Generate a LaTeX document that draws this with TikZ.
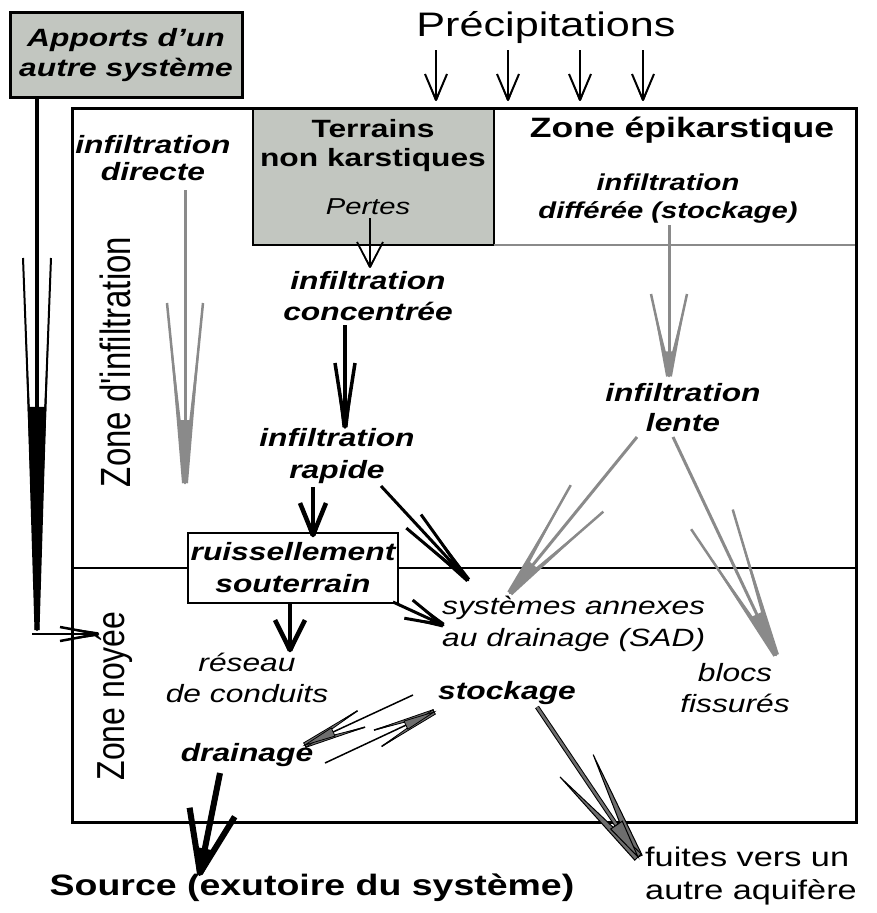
\documentclass[tikz,border=0pt]{standalone}
\usepackage{fontspec}
\setmainfont{Liberation Sans}[FakeStretch=1.27]
\newfontfamily\vfont{Liberation Sans}
\usetikzlibrary{calc}
\definecolor{boxgray}{HTML}{C2C6C0}
\definecolor{arrgray}{HTML}{8A8A8A}
\definecolor{dgray}{HTML}{6E6E6E}
\newcommand\fs[2]{\fontsize{#1}{#2}\selectfont}
% fancy arrow: [shaft style]{start}{tip}{barb length}{half width}{solid fraction}{barb width at tip}{tip style}
\newcommand\farrow[8][]{%
  \coordinate (faB) at ($(#3)!#4pt!(#2)$);
  \coordinate (faF) at ($(faB)!#5pt!90:(#3)$);
  \coordinate (faG) at ($(faB)!#5pt!-90:(#3)$);
  \draw[#1] (#2) -- (#3);
  \draw[line join=round, #1, barb] (faF) -- (#3) -- (faG);
  \path[#8] (faF) -- ($(#3)!#7pt!90:(faF)$) -- ($(#3)!#7pt!-90:(faF)$) -- cycle;
  \path[#8] (faG) -- ($(#3)!#7pt!90:(faG)$) -- ($(#3)!#7pt!-90:(faG)$) -- cycle;
  \path[#8] (#3) -- ($(#3)!#6!(faF)$) -- ($(#3)!#6!(faG)$) -- cycle;
}
\tikzset{
  barb/.style={},
  bi/.style={font=\fs{25}{30}\bfseries\itshape, align=center, inner sep=0pt},
  it/.style={font=\fs{25}{31}\itshape, align=center, inner sep=0pt},
  bd/.style={font=\fs{25}{29}\bfseries, align=center, inner sep=0pt},
  blk/.style={line width=3pt, black},
  gry/.style={line width=3pt, arrgray},
  fb/.style={fill=black},
  fg/.style={fill=arrgray},
}
\begin{document}
\begin{tikzpicture}[x=1pt,y=-1pt]
\useasboundingbox (0,0) rectangle (876,913);
% boxes and frame
\filldraw[fill=boxgray, draw=black, line width=1.5pt] (253,108) rectangle (494,245);
\draw[line width=1.8pt, arrgray] (494,245) -- (856,245);
\draw[line width=2pt] (72,568) -- (856,568);
\draw[line width=3pt] (72,108) rectangle (856,822);
\node[draw, line width=3pt, fill=boxgray, minimum width=232pt, minimum height=85pt, inner sep=0pt, font=\fs{25}{30}\bfseries\itshape, align=center] (apports) at (126,55) {Apports d'un\\autre système};
\node[draw, line width=1.5pt, fill=white, minimum width=210pt, minimum height=70pt, inner sep=0pt, font=\fs{25}{32}\bfseries\itshape, align=center] (ruiss) at (293,568) {ruissellement\\souterrain};

% texts
\node[font=\fs{34}{40}, inner sep=0pt] (precip) at (546,28) {Précipitations};
\node[bi, font=\fs{25}{27}\bfseries\itshape] (directe) at (153,158) {infiltration\\directe};
\node[bd] (terrains) at (373,146) {Terrains\\non karstiques};
\node[font=\fs{28}{32}\bfseries, inner sep=0pt] (epi) at (682,130) {Zone épikarstique};
\node[font=\fs{23}{28}\itshape, inner sep=0pt] (pertes) at (368,207) {Pertes};
\node[bi, font=\fs{23}{28}\bfseries\itshape] (differee) at (668,199) {infiltration\\différée (stockage)};
\node[bi, font=\fs{25}{31}\bfseries\itshape] (concentree) at (368,296) {infiltration\\concentrée};
\node[bi, font=\fs{25}{32}\bfseries\itshape] (rapide) at (337,456) {infiltration\\rapide};
\node[bi] (lente) at (683,408) {infiltration\\lente};
\node[it, align=left, anchor=west, font=\fs{25}{32}\itshape] (sad) at (442,624) {systèmes annexes\\au drainage (SAD)};
\node[it] (reseau) at (247,678) {réseau\\de conduits};
\node[it] (blocs) at (735,688) {blocs\\fissurés};
\node[bi] (stockage) at (507,693) {stockage};
\node[bi] (drainage) at (247,755) {drainage};
\node[font=\fs{29.5}{34}\bfseries, inner sep=0pt] (source) at (312,888) {Source (exutoire du système)};
\node[font=\fs{27}{33}, align=left, anchor=west, inner sep=0pt] (fuites) at (645,876) {fuites vers un\\autre aquifère};
\node[rotate=90, inner sep=0pt, font=\vfont\fs{33}{36}] (zinf) at (115,362) {\scalebox{1}[1.28]{Zone d'infiltration}};
\node[rotate=90, inner sep=0pt, font=\vfont\fs{32}{36}] (znoy) at (114,696) {\scalebox{1}[1.22]{Zone noyée}};

% connector end points
\coordinate (p1s) at (436,50); \coordinate (p1t) at (436,100);
\coordinate (p2s) at (508,50); \coordinate (p2t) at (508,100);
\coordinate (p3s) at (580,50); \coordinate (p3t) at (580,100);
\coordinate (p4s) at (643,50); \coordinate (p4t) at (643,100);
\coordinate (apS) at (37,97);  \coordinate (apT) at (37,630);
\coordinate (znS) at (32,634); \coordinate (znT) at (98,634);
\coordinate (diS) at (185,190); \coordinate (diT) at (185,483);
\coordinate (peS) at (370,218); \coordinate (peT) at (370,267);
\coordinate (coS) at (345,325); \coordinate (coT) at (345,427);
\coordinate (raS) at (313,487); \coordinate (raT) at (313,535);
\coordinate (rsS) at (381,486); \coordinate (rsT) at (468,580);
\coordinate (rrS) at (290,602); \coordinate (rrT) at (290,650);
\coordinate (ruS) at (393,602); \coordinate (ruT) at (443,625);
\coordinate (epS) at (669,225); \coordinate (epT) at (669,376);
\coordinate (lsS) at (637,437); \coordinate (lsT) at (510,593);
\coordinate (lbS) at (673,437); \coordinate (lbT) at (776,655);
\coordinate (sdS) at (413,695); \coordinate (sdT) at (305,745);
\coordinate (dsS) at (325,763); \coordinate (dsT) at (434,712);
\coordinate (sfS) at (537,707); \coordinate (sfT) at (638,857);
\coordinate (doS) at (220,773); \coordinate (doT) at (200,873);

% arrows
\foreach \i in {1,2,3,4}{\farrow[line width=2pt]{p\i s}{p\i t}{26}{11}{0}{1}{fb}}
\begin{scope}[barb/.style={line width=2pt}]
\farrow[line width=4pt]{apS}{apT}{372}{14}{0.6}{2.5}{fb}
\end{scope}
\farrow[line width=2.5pt]{znS}{znT}{38}{7}{0.2}{1.8}{fb}
\begin{scope}[barb/.style={line width=2.5pt}]
\farrow[gry]{diS}{diT}{180}{18}{0.35}{3}{fg}
\farrow[gry]{epS}{epT}{82}{18}{0.3}{3}{fg}
\farrow[gry]{lsS}{lsT}{122}{21}{0.3}{3}{fg}
\farrow[gry]{lbS}{lbT}{150}{23}{0.3}{3}{fg}
\end{scope}
\farrow[line width=1.8pt]{peS}{peT}{25}{13}{0}{1}{fb}
\farrow[line width=3.5pt]{coS}{coT}{64}{10}{0.3}{2.5}{fb}
\farrow[line width=4.5pt]{raS}{raT}{32}{13}{0.3}{2.5}{fb}
\farrow[blk]{rsS}{rsT}{80}{10}{0.3}{2.5}{fb}
\farrow[line width=4.5pt]{rrS}{rrT}{30}{15}{0.3}{2.5}{fb}
\farrow[blk]{ruS}{ruT}{38}{10}{0.3}{2.5}{fb}
\farrow[line width=1.5pt]{sdS}{sdT}{62}{9}{0.5}{2.5}{fill=dgray, draw=black, line width=0.8pt}
\farrow[line width=1.5pt]{dsS}{dsT}{62}{9}{0.5}{2.5}{fill=dgray, draw=black, line width=0.8pt}
\begin{scope}[barb/.style={draw=none}]
\farrow[draw=black, line width=1pt, double=dgray, double distance=2.5pt]{sfS}{sfT}{110}{20}{0.35}{4.5}{fill=dgray, draw=black, line width=1pt}
\end{scope}
\farrow[line width=6pt]{doS}{doT}{62}{23}{0.4}{3}{fb}
\end{tikzpicture}
\end{document}
